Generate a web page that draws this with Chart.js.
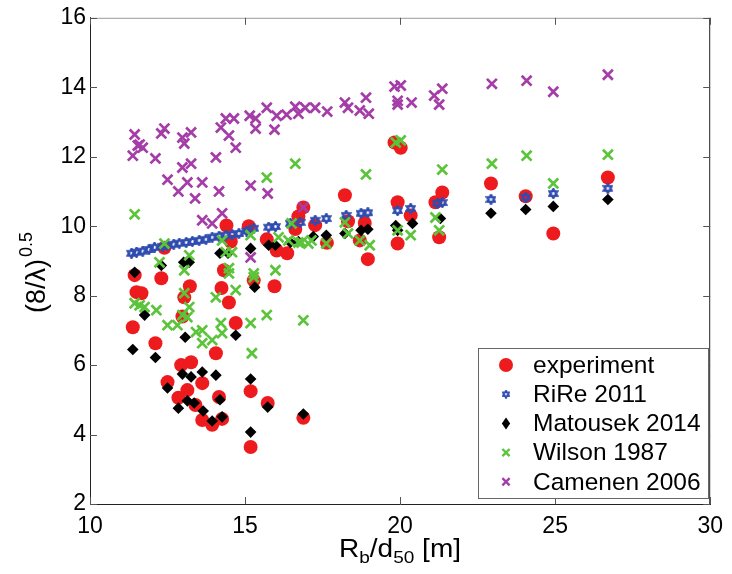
<!DOCTYPE html>
<html>
<head>
<meta charset="utf-8">
<script src="https://cdn.jsdelivr.net/npm/chart.js@4.4.1/dist/chart.umd.min.js"></script>
<style>
  html, body { margin: 0; padding: 0; background: #fff; }
</style>
</head>
<body>
<canvas id="chart" width="732" height="574"></canvas>
<script>
// --- data ---
const xTicks = [10, 15, 20, 25, 30];
const yTicks = [2, 4, 6, 8, 10, 12, 14, 16];

const seriesNames = ['experiment', 'RiRe 2011', 'Matousek 2014', 'Wilson 1987', 'Camenen 2006'];

const expX = [11.44, 11.50, 11.66, 11.38, 12.30, 12.11, 12.40, 13.22, 13.04, 12.98, 14.40, 14.54, 14.32, 14.24, 14.48,
  14.70, 14.06, 12.94, 13.26, 12.50, 12.85, 13.14, 13.40, 13.62, 13.62, 13.94, 14.26, 14.16, 15.18, 15.73,
  16.88, 15.18, 15.12, 15.70, 16.02, 16.36, 15.28, 15.95, 16.62, 16.72, 16.88, 17.26, 17.64, 18.22, 18.32,
  18.86, 18.70, 18.96, 19.82, 20.02, 19.92, 20.34, 19.92, 21.14, 21.36, 21.26, 22.93, 24.05, 24.94, 26.70];
const expY = [8.59, 8.10, 8.07, 7.09, 8.50, 6.63, 9.38, 8.27, 7.95, 7.40, 10.02, 9.56, 8.73, 8.22, 7.80,
  7.21, 6.34, 6.00, 6.08, 5.51, 5.06, 5.28, 4.85, 5.48, 4.42, 4.28, 4.45, 5.08, 5.25, 4.91,
  4.48, 3.64, 10.00, 9.62, 9.30, 9.22, 8.44, 8.27, 9.92, 10.28, 10.54, 10.03, 9.52, 10.89, 10.14,
  10.09, 9.59, 9.05, 12.41, 12.26, 10.69, 10.31, 9.50, 10.69, 10.97, 9.68, 11.23, 10.86, 9.79, 11.40];

const rireX = [11.34, 11.50, 11.70, 11.90, 12.08, 12.34, 12.50, 12.70, 12.88, 13.10, 13.30, 13.52, 13.74, 13.94, 14.16,
  14.38, 14.58, 14.80, 15.05, 15.28, 15.76, 15.98, 16.46, 16.78, 17.26, 17.62, 18.26, 18.74, 18.96, 19.92,
  20.34, 21.20, 21.36, 22.93, 24.05, 24.94, 26.70];
const rireY = [9.22, 9.25, 9.28, 9.33, 9.39, 9.42, 9.45, 9.48, 9.51, 9.53, 9.56, 9.59, 9.62, 9.68, 9.71,
  9.74, 9.76, 9.79, 9.86, 9.94, 9.97, 9.99, 10.08, 10.11, 10.17, 10.22, 10.31, 10.37, 10.39, 10.45,
  10.51, 10.66, 10.68, 10.77, 10.83, 10.94, 11.09];

const matX = [11.44, 11.38, 11.76, 12.11, 12.30, 13.02, 13.20, 13.07, 14.70, 14.19, 14.45, 15.18, 15.31, 15.76, 15.98,
  16.46, 16.72, 17.20, 17.62, 18.22, 18.74, 18.96, 19.86, 19.92, 20.40, 21.30, 22.93, 24.05, 24.94, 26.70,
  12.98, 13.26, 13.62, 14.06, 12.50, 13.14, 13.36, 12.85, 13.65, 13.94, 14.19, 14.26, 15.18, 15.18, 15.73, 16.88];
const matY = [8.67, 6.45, 7.44, 6.22, 8.87, 8.96, 8.96, 6.80, 6.86, 9.22, 9.22, 9.36, 8.24, 9.45, 9.45,
  9.53, 9.56, 9.70, 9.74, 9.79, 9.88, 9.91, 10.02, 9.88, 10.08, 10.22, 10.37, 10.48, 10.57, 10.77,
  5.74, 5.66, 5.80, 5.71, 5.34, 4.97, 4.91, 4.76, 4.68, 4.39, 5.00, 4.51, 5.60, 4.07, 4.79, 4.59];

const wilX = [11.44, 12.40, 12.24, 13.04, 13.20, 11.44, 11.60, 11.76, 12.14, 13.04, 13.20, 12.98, 13.14, 12.50, 12.82,
  13.42, 13.62, 13.62, 13.94, 14.22, 14.26, 14.06, 14.70, 14.26, 14.38, 14.58, 14.48, 14.48, 15.18, 15.28,
  15.28, 15.22, 15.70, 15.98, 15.18, 16.08, 16.50, 16.40, 16.72, 16.82, 17.04, 16.88, 15.70, 16.62, 18.90,
  19.86, 20.02, 21.36, 22.96, 24.08, 24.94, 26.70, 17.14, 17.62, 18.22, 18.32, 18.70, 19.02, 19.92, 20.34,
  21.14, 21.26];
const wilY = [10.34, 9.50, 8.96, 8.73, 9.16, 7.78, 7.72, 7.67, 7.58, 8.07, 7.67, 7.44, 7.38, 7.15, 7.15,
  6.95, 7.00, 6.63, 6.72, 7.21, 6.92, 7.95, 8.16, 9.59, 9.25, 9.25, 8.79, 8.64, 7.21, 8.64,
  8.53, 6.34, 7.44, 8.73, 9.74, 9.68, 10.08, 9.59, 9.53, 9.53, 9.50, 7.29, 11.40, 11.80, 11.49,
  12.41, 12.47, 11.63, 11.80, 12.03, 11.23, 12.06, 9.59, 9.50, 10.11, 9.79, 9.59, 9.45, 9.88, 9.74,
  10.25, 9.88];

const camX = [11.44, 11.38, 11.54, 11.70, 11.60, 12.11, 12.30, 12.40, 12.98, 13.04, 13.26, 12.50, 12.85, 12.98, 13.26,
  13.14, 13.62, 13.39, 14.06, 14.16, 14.22, 14.38, 14.48, 14.64, 14.70, 15.15, 15.34, 15.34, 15.18, 15.70,
  16.02, 15.95, 15.73, 16.34, 16.62, 16.72, 16.94, 17.26, 17.65, 18.22, 18.32, 18.70, 18.90, 18.99, 19.82,
  20.02, 19.92, 19.92, 20.37, 21.10, 21.36, 21.26, 22.96, 24.08, 24.94, 26.70, 13.62, 13.94, 14.26, 15.18, 16.88];
const camY = [12.64, 12.03, 12.32, 12.26, 12.35, 11.95, 12.67, 12.81, 12.55, 12.38, 12.70, 11.34, 11.00, 11.69, 11.80,
  11.26, 11.26, 10.80, 11.98, 11.00, 12.84, 13.10, 12.61, 13.10, 12.26, 13.18, 13.10, 12.81, 11.17, 13.41,
  13.18, 12.78, 10.94, 13.21, 13.44, 13.24, 13.41, 13.41, 13.30, 13.56, 13.41, 13.33, 13.70, 13.24, 14.02,
  14.05, 13.61, 13.50, 13.56, 13.76, 13.96, 13.50, 14.10, 14.19, 13.87, 14.36, 10.17, 10.08, 10.37, 9.10, 10.54];

// --- styles ---
const FONT = "'Liberation Sans', Arial, sans-serif";
const RED = '#ee1b1e';
const BLUE = '#2f4cb0';
const GREEN = '#5bc43a';
const PURPLE = '#a53da8';

function toPoints(xs, ys) {
  return xs.map((x, i) => ({ x: x, y: ys[i] }));
}

// hexagram marker (MATLAB 'h') drawn on a small canvas
function hexagram(size, color, lw) {
  const c = document.createElement('canvas');
  c.width = size; c.height = size;
  const g = c.getContext('2d');
  const cx = size / 2, cy = size / 2, r = size / 2 - lw / 2;
  g.beginPath();
  for (let k = 0; k < 12; k++) {
    const a = -Math.PI / 2 + k * Math.PI / 6;
    const rr = (k % 2 === 0) ? r : r * 0.6;
    const px = cx + rr * Math.cos(a), py = cy + rr * Math.sin(a);
    if (k === 0) g.moveTo(px, py); else g.lineTo(px, py);
  }
  g.closePath();
  g.lineWidth = lw;
  g.strokeStyle = color;
  g.stroke();
  return c;
}
const hexMark = hexagram(11, BLUE, 2.6);

const markers = [
  { type: 'circle', color: RED, r: 7 },
  { type: 'hex', color: BLUE },
  { type: 'diamond', color: '#000', r: 6 },
  { type: 'x', color: GREEN, r: 3.6 },
  { type: 'x', color: PURPLE, r: 3.6 }
];

function drawMarker(ctx, m, x, y, scale) {
  ctx.save();
  if (m.type === 'circle') {
    ctx.fillStyle = m.color;
    ctx.beginPath(); ctx.arc(x, y, m.r * scale, 0, Math.PI * 2); ctx.fill();
  } else if (m.type === 'hex') {
    const s = hexMark.width * scale;
    ctx.drawImage(hexMark, x - s / 2, y - s / 2, s, s);
  } else if (m.type === 'diamond') {
    const r = m.r * scale;
    ctx.fillStyle = m.color;
    ctx.beginPath();
    ctx.moveTo(x, y - r); ctx.lineTo(x + r * 0.7, y); ctx.lineTo(x, y + r); ctx.lineTo(x - r * 0.7, y);
    ctx.closePath(); ctx.fill();
  } else {
    const r = m.r * scale;
    ctx.strokeStyle = m.color; ctx.lineWidth = 2.4;
    ctx.beginPath();
    ctx.moveTo(x - r, y - r); ctx.lineTo(x + r, y + r);
    ctx.moveTo(x + r, y - r); ctx.lineTo(x - r, y + r);
    ctx.stroke();
  }
  ctx.restore();
}

// box, inward ticks, axis titles and legend, MATLAB style
const matlabFrame = {
  id: 'matlabFrame',
  afterDraw(chart) {
    const ctx = chart.ctx;
    const a = chart.chartArea;
    const xs = chart.scales.x, ys = chart.scales.y;
    ctx.save();

    // frame
    ctx.lineWidth = 1;
    ctx.strokeStyle = '#9a9a9a';
    ctx.beginPath(); ctx.moveTo(a.left, a.top + 0.5); ctx.lineTo(a.right, a.top + 0.5); ctx.stroke();
    ctx.strokeStyle = '#222';
    ctx.beginPath(); ctx.moveTo(a.right - 0.5, a.top); ctx.lineTo(a.right - 0.5, a.bottom); ctx.stroke();

    // inward ticks
    const tl = 7;
    ctx.strokeStyle = '#555';
    ctx.beginPath();
    xTicks.forEach(v => {
      const px = Math.round(xs.getPixelForValue(v)) + 0.5;
      ctx.moveTo(px, a.bottom); ctx.lineTo(px, a.bottom - tl);
      ctx.moveTo(px, a.top); ctx.lineTo(px, a.top + tl);
    });
    yTicks.forEach(v => {
      const py = Math.round(ys.getPixelForValue(v)) + 0.5;
      ctx.moveTo(a.left, py); ctx.lineTo(a.left + tl, py);
      ctx.moveTo(a.right, py); ctx.lineTo(a.right - tl, py);
    });
    ctx.stroke();

    // x title: R_b/d_50 [m]
    ctx.fillStyle = '#000';
    ctx.textBaseline = 'alphabetic';
    const parts = [
      { t: 'R', f: 25, dy: 0 },
      { t: 'b', f: 17, dy: 6 },
      { t: '/d', f: 25, dy: 0 },
      { t: '50', f: 17, dy: 6 },
      { t: ' [m]', f: 25, dy: 0 }
    ];
    const stretch = 1.12;
    let total = 0;
    parts.forEach(p => { ctx.font = p.f + 'px ' + FONT; p.w = ctx.measureText(p.t).width * stretch; total += p.w; });
    let cx = 400 - total / 2;
    const base = 557;
    parts.forEach(p => {
      ctx.save();
      ctx.font = p.f + 'px ' + FONT;
      ctx.translate(cx, base + p.dy);
      ctx.scale(stretch, 1);
      ctx.fillText(p.t, 0, 0);
      ctx.restore();
      cx += p.w;
    });

    // y title: (8/λ)^0.5, rotated
    ctx.save();
    ctx.translate(45, 313);
    ctx.rotate(-Math.PI / 2);
    ctx.font = '27px ' + FONT;
    const w1 = ctx.measureText('(8/λ)').width;
    ctx.fillText('(8/λ)', 0, 0);
    ctx.font = '18px ' + FONT;
    ctx.fillText('0.5', w1 + 2, -13);
    ctx.restore();

    // legend
    const lx = 478, ly = 348, lw = 230, lh = 150;
    ctx.fillStyle = '#fff';
    ctx.fillRect(lx, ly, lw, lh);
    ctx.strokeStyle = '#666';
    ctx.strokeRect(lx + 0.5, ly + 0.5, lw, lh);
    ctx.font = '24.5px ' + FONT;
    ctx.textBaseline = 'middle';
    seriesNames.forEach((name, i) => {
      const ry = 365 + i * 29.2;
      drawMarker(ctx, markers[i], 506, ry, i === 1 ? 0.8 : 1);
      ctx.fillStyle = '#000';
      ctx.fillText(name, 533, ry + 1);
    });

    ctx.restore();
  }
};

const ctx = document.getElementById('chart').getContext('2d');
const chart = new Chart(ctx, {
  type: 'scatter',
  data: {
    datasets: [
      {
        label: seriesNames[0], data: toPoints(expX, expY), order: 5,
        pointStyle: 'circle', pointRadius: 7, backgroundColor: RED, borderColor: RED, borderWidth: 0
      },
      {
        label: seriesNames[1], data: toPoints(rireX, rireY), order: 4,
        pointStyle: hexMark, pointRadius: 5
      },
      {
        label: seriesNames[2], data: toPoints(matX, matY), order: 3,
        pointStyle: 'rectRot', pointRadius: 5.8, backgroundColor: '#000', borderColor: '#000', borderWidth: 0
      },
      {
        label: seriesNames[3], data: toPoints(wilX, wilY), order: 2,
        pointStyle: 'crossRot', pointRadius: 7, borderColor: GREEN, backgroundColor: GREEN, borderWidth: 2.7
      },
      {
        label: seriesNames[4], data: toPoints(camX, camY), order: 1,
        pointStyle: 'crossRot', pointRadius: 7, borderColor: PURPLE, backgroundColor: PURPLE, borderWidth: 2.7
      }
    ]
  },
  options: {
    responsive: false,
    animation: false,
    events: [],
    layout: { padding: { top: 17, right: 17, left: 0, bottom: 0 } },
    plugins: {
      legend: { display: false },
      tooltip: { enabled: false }
    },
    scales: {
      x: {
        type: 'linear', min: 10, max: 30,
        afterFit: s => { s.height = 70; },
        afterBuildTicks: s => { s.ticks = xTicks.map(v => ({ value: v })); },
        grid: { display: false, drawTicks: false },
        border: { display: true, color: '#222', width: 1 },
        ticks: { color: '#000', padding: 9, maxRotation: 0, font: { family: FONT, size: 23 } }
      },
      y: {
        type: 'linear', min: 2, max: 16,
        afterFit: s => { s.width = 90; },
        afterBuildTicks: s => { s.ticks = yTicks.map(v => ({ value: v })); },
        grid: { display: false, drawTicks: false },
        border: { display: true, color: '#222', width: 1 },
        ticks: { color: '#000', padding: 4, font: { family: FONT, size: 23 } }
      }
    }
  },
  plugins: [matlabFrame]
});
</script>
</body>
</html>
